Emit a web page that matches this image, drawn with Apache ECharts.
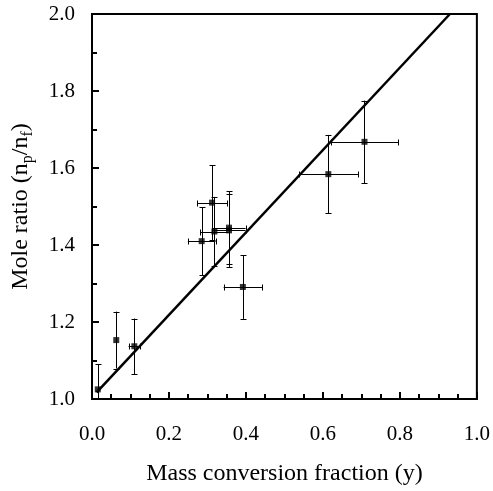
<!DOCTYPE html>
<html><head><meta charset="utf-8">
<script src="https://cdn.jsdelivr.net/npm/echarts@6/dist/echarts.min.js"></script>
<style>html,body{margin:0;padding:0;background:#fff}#c{width:493px;height:491px}</style>
</head><body><div id="c"></div>
<script>
var xVals = [0.015, 0.063, 0.110, 0.285, 0.312, 0.318, 0.356, 0.356, 0.392, 0.614, 0.708];
var yVals = [1.025, 1.153, 1.137, 1.410, 1.510, 1.435, 1.445, 1.438, 1.291, 1.584, 1.668];
var xErr  = [0.000, 0.000, 0.015, 0.036, 0.039, 0.037, 0.043, 0.043, 0.050, 0.077, 0.088];
var yErr  = [0.065, 0.074, 0.072, 0.088, 0.097, 0.090, 0.095, 0.095, 0.083, 0.102, 0.107];
var fitX = [0.012, 0.93];
var fitY = [1.017, 2.0];
var xTicks = ['0.0','0.2','0.4','0.6','0.8','1.0'];
var yTicks = ['1.0','1.2','1.4','1.6','1.8','2.0'];

var pts = xVals.map(function(x,i){return [x, yVals[i], xErr[i], yErr[i]];});
var fit = fitX.map(function(x,i){return [x, fitY[i]];});
var FONT = 'Liberation Serif';

var chart = echarts.init(document.getElementById('c'));
chart.setOption({
  animation:false,
  backgroundColor:'#fff',
  grid:{left:92, right:16, top:14, bottom:92, show:true, borderColor:'#000', borderWidth:2},
  xAxis:{
    type:'value', min:0, max:1, interval:0.2,
    name:'Mass conversion fraction (y)', nameLocation:'middle', nameGap:63,
    nameTextStyle:{fontFamily:FONT, fontSize:24, color:'#000'},
    axisLine:{show:true, lineStyle:{color:'#000', width:2}},
    axisTick:{show:true, inside:true, length:7, lineStyle:{color:'#000', width:2}},
    minorTick:{show:true, splitNumber:4, length:5, lineStyle:{color:'#000', width:2}},
    splitLine:{show:false},
    axisLabel:{fontFamily:FONT, fontSize:21, color:'#000', margin:25,
      formatter:function(v){return xTicks[Math.round(v/0.2)];}}
  },
  yAxis:{
    type:'value', min:1, max:2, interval:0.2,
    name:'Mole ratio (n{s|p}/n{s|f})', nameLocation:'middle', nameGap:56, nameRotate:90,
    nameTextStyle:{fontFamily:FONT, fontSize:24, color:'#000',
      rich:{s:{fontFamily:FONT, fontSize:16, color:'#000', padding:[14,0,0,0]}}},
    axisLine:{show:true, lineStyle:{color:'#000', width:2}},
    axisTick:{show:true, inside:true, length:7, lineStyle:{color:'#000', width:2}},
    minorTick:{show:true, splitNumber:2, length:5, lineStyle:{color:'#000', width:2}},
    splitLine:{show:false},
    axisLabel:{fontFamily:FONT, fontSize:21, color:'#000', margin:17,
      formatter:function(v){return yTicks[Math.round((v-1)/0.2)];}}
  },
  series:[
    {type:'line', data:fit, symbol:'none', lineStyle:{color:'#000', width:2.5}, z:3},
    {type:'custom', clip:true, z:2,
     renderItem:function(params, api){
       var x=api.value(0), y=api.value(1), ex=api.value(2), ey=api.value(3);
       var c=api.coord([x,y]);
       var top=api.coord([x,y+ey]), bot=api.coord([x,y-ey]);
       var lft=api.coord([x-ex,y]), rgt=api.coord([x+ex,y]);
       var st={stroke:'#000', lineWidth:1};
       var cx=Math.round(c[0])+0.5, cy=Math.round(c[1])+0.5;
       var ch=[
         {type:'line', shape:{x1:cx,y1:top[1],x2:cx,y2:bot[1]}, style:st},
         {type:'line', shape:{x1:cx-3,y1:Math.round(top[1])+0.5,x2:cx+3,y2:Math.round(top[1])+0.5}, style:st},
         {type:'line', shape:{x1:cx-3,y1:Math.round(bot[1])+0.5,x2:cx+3,y2:Math.round(bot[1])+0.5}, style:st}
       ];
       if(ex>0){
         ch.push({type:'line', shape:{x1:lft[0],y1:cy,x2:rgt[0],y2:cy}, style:st});
         ch.push({type:'line', shape:{x1:Math.round(lft[0])+0.5,y1:cy-3,x2:Math.round(lft[0])+0.5,y2:cy+3}, style:st});
         ch.push({type:'line', shape:{x1:Math.round(rgt[0])+0.5,y1:cy-3,x2:Math.round(rgt[0])+0.5,y2:cy+3}, style:st});
       }
       return {type:'group', children:ch};
     },
     data:pts},
    {type:'scatter', data:pts.map(function(p){return [p[0],p[1]];}), symbol:'rect', symbolSize:6,
     itemStyle:{color:'#000'}, z:4}
  ]
});
</script></body></html>
